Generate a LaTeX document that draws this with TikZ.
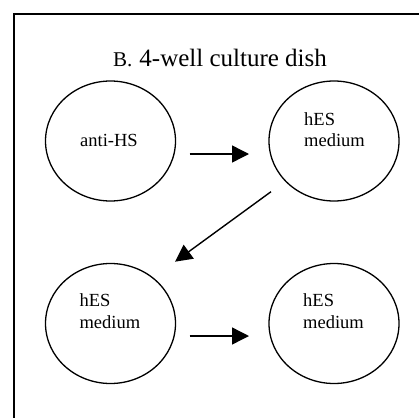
\documentclass[tikz,border=0pt]{standalone}
\usepackage{fontspec}
\setmainfont{Liberation Serif}
\usetikzlibrary{arrows.meta,shapes.geometric}
\tikzset{
  well/.style={draw,ellipse,line width=1.3pt,minimum width=130pt,minimum height=120pt,inner sep=0pt},
  welltext/.style={anchor=base west,inner sep=0pt,align=left,font=\fontsize{18.5}{21.7}\selectfont},
  arr/.style={line width=1.4pt,-{Triangle[length=17pt,width=17pt]}},
}
\begin{document}
\begin{tikzpicture}[x=1pt,y=-1pt]
\useasboundingbox (0,0) rectangle (419,417);
\begin{scope}
\clip (0,0) rectangle (419,417);
\draw[line width=1.3pt] (14,14) rectangle (440,440);
\end{scope}
\node (title) [anchor=base west,inner sep=0pt] at (113,66.7)
  {{\fontsize{21}{25}\selectfont B.}\hspace{7pt}{\fontsize{25}{30}\selectfont 4-well culture dish}};
\node[well] (w1) at (110.5,141) {};
\node[well] (w2) at (334,141) {};
\node[well] (w3) at (110.5,323.5) {};
\node[well] (w4) at (334,323.5) {};
\node[welltext] (t1) at (80,146) {anti-HS};
\node[welltext] (t2) at (304,146.7) {hES\\medium};
\node[welltext] (t3) at (79.3,328.3) {hES\\medium};
\node[welltext] (t4) at (303,328.3) {hES\\medium};
\draw[arr] ([shift={(79,13)}]w1.center) -- ([shift={(-85,13)}]w2.center);
\draw[arr] ([shift={(-63,50.7)}]w2.center) -- ([shift={(64.5,-61.8)}]w3.center);
\draw[arr] ([shift={(79,12.5)}]w3.center) -- ([shift={(-85,12.5)}]w4.center);
\end{tikzpicture}
\end{document}
